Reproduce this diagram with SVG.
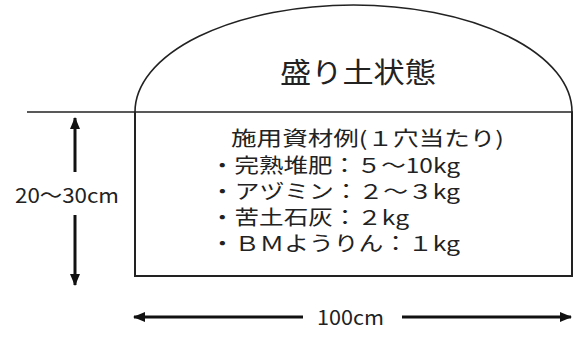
<svg xmlns="http://www.w3.org/2000/svg" width="573" height="338" viewBox="0 0 573 338">
  <style>
    .ln { fill: none; stroke: #222; }
    .t { font-family: "Noto Sans CJK JP", "Noto Sans", sans-serif; fill: #222; }
    .dim { stroke: #111; stroke-width: 3; fill: none; }
  </style>
  <defs>
    <marker id="ah" viewBox="0 0 12 10" refX="11" refY="5" markerWidth="12" markerHeight="10" markerUnits="userSpaceOnUse" orient="auto-start-reverse">
      <path d="M0,0 L12,5 L0,10 Z" fill="#111"/>
    </marker>
  </defs>
  <rect width="573" height="338" fill="#fff"/>

  <g id="ground">
    <line class="ln" x1="27" y1="112" x2="573" y2="112" stroke-width="1.6"/>
  </g>

  <g id="mound">
    <path class="ln" d="M135,112 A218.5,107 0 0 1 572,112" stroke-width="1.6"/>
    <text class="t" x="280" y="83" font-size="28" textLength="156" lengthAdjust="spacingAndGlyphs">盛り土状態</text>
  </g>

  <g id="box">
    <path class="ln" d="M135,112 V276 H572 V112" stroke-width="2"/>
    <text class="t" font-size="20" x="231" y="146" textLength="273" lengthAdjust="spacingAndGlyphs">施用資材例(１穴当たり)</text>
    <text class="t" font-size="20" x="210" y="173" textLength="250" lengthAdjust="spacingAndGlyphs">・完熟堆肥：５～10kg</text>
    <text class="t" font-size="20" x="210" y="199" textLength="250" lengthAdjust="spacingAndGlyphs">・アヅミン：２～３kg</text>
    <text class="t" font-size="20" x="210" y="225" textLength="199" lengthAdjust="spacingAndGlyphs">・苦土石灰：２kg</text>
    <text class="t" font-size="20" x="210" y="251" textLength="250" lengthAdjust="spacingAndGlyphs">・ＢＭようりん：１kg</text>
  </g>

  <g id="height-label">
    <text class="t" font-size="20.5" x="15" y="203" textLength="104" lengthAdjust="spacingAndGlyphs">20～30cm</text>
  </g>

  <g id="width-label">
    <text class="t" font-size="20.5" x="317" y="325" textLength="67" lengthAdjust="spacingAndGlyphs">100cm</text>
  </g>

  <g id="connectors">
    <line class="dim" x1="75" y1="172" x2="75" y2="118" marker-end="url(#ah)"/>
    <line class="dim" x1="75" y1="215" x2="75" y2="285" marker-end="url(#ah)"/>
    <line class="dim" x1="303" y1="317" x2="134" y2="317" marker-end="url(#ah)"/>
    <line class="dim" x1="402" y1="317" x2="571" y2="317" marker-end="url(#ah)"/>
  </g>
</svg>
